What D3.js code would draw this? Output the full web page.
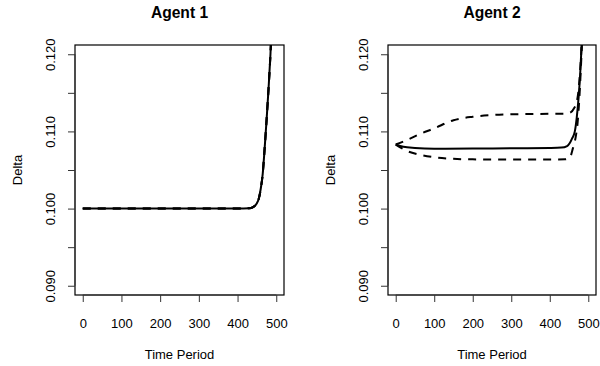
<!DOCTYPE html>
<html>
<head>
<meta charset="utf-8">
<script src="https://cdn.jsdelivr.net/npm/d3@7"></script>
<style>
  body { margin: 0; background: #fff; }
  text { font-family: "Liberation Sans", Arial, Helvetica, sans-serif; fill: #000; }
</style>
</head>
<body>
<svg id="chart" width="600" height="366"></svg>
<script>
// Agent 1: estimate and its band (the band sits on top of the estimate)
const agent1Time  = [0, 100, 200, 300, 400, 430, 440, 450, 455, 460, 465, 470, 475, 480, 485, 490];
const agent1Mean  = [0.1, 0.1, 0.1, 0.1, 0.1, 0.10005, 0.1002, 0.1007, 0.1013, 0.1026, 0.1045, 0.1078, 0.1115, 0.1155, 0.1200, 0.1260];
const agent1Lower = [0.1, 0.1, 0.1, 0.1, 0.1, 0.10005, 0.1002, 0.1007, 0.1013, 0.1026, 0.1045, 0.1078, 0.1115, 0.1155, 0.1200, 0.1260];
const agent1Upper = [0.1, 0.1, 0.1, 0.1, 0.1, 0.10005, 0.1002, 0.1007, 0.1013, 0.1026, 0.1045, 0.1078, 0.1115, 0.1155, 0.1200, 0.1260];

// Agent 2: estimate
const agent2MeanTime = [0, 20, 50, 100, 200, 300, 400, 430, 445, 452, 458, 465, 470, 475, 479, 483, 488];
const agent2Mean     = [0.1083, 0.1080, 0.10785, 0.10775, 0.10778, 0.10782, 0.10786, 0.1079, 0.1081, 0.1085, 0.1091, 0.1100, 0.1118, 0.1145, 0.1175, 0.1215, 0.1280];
// Agent 2: upper band
const agent2UpperTime = [0, 30, 60, 100, 150, 200, 250, 300, 400, 440, 455, 463, 470, 475, 479, 483, 488];
const agent2Upper     = [0.1083, 0.1089, 0.1096, 0.1104, 0.11145, 0.1119, 0.11212, 0.11222, 0.11228, 0.1123, 0.1125, 0.1130, 0.1138, 0.1155, 0.1180, 0.1215, 0.1280];
// Agent 2: lower band
const agent2LowerTime = [0, 30, 60, 100, 150, 200, 300, 400, 440, 452, 460, 467, 472, 477, 481, 485, 490];
const agent2Lower     = [0.1083, 0.10745, 0.1070, 0.10665, 0.10645, 0.10638, 0.10635, 0.10636, 0.10638, 0.1066, 0.1078, 0.1092, 0.1110, 0.1145, 0.1185, 0.1230, 0.1290];

// Axis ticks and labels
const xTicks = [0, 100, 200, 300, 400, 500];
const yTicks = [0.090, 0.095, 0.100, 0.105, 0.110, 0.115, 0.120];
const yTickLabels = ["0.090", "", "0.100", "", "0.110", "", "0.120"];
const titles = ["Agent 1", "Agent 2"];
const xTitle = "Time Period";
const yTitle = "Delta";

const svg = d3.select("#chart");

const panels = [
  { title: titles[0], left: 75, right: 284,
    series: [
      { t: agent1Time, v: agent1Mean, dash: null },
      { t: agent1Time, v: agent1Lower, dash: "8,7" },
      { t: agent1Time, v: agent1Upper, dash: "8,7" }
    ] },
  { title: titles[1], left: 388, right: 596,
    series: [
      { t: agent2MeanTime, v: agent2Mean, dash: null },
      { t: agent2UpperTime, v: agent2Upper, dash: "8,7" },
      { t: agent2LowerTime, v: agent2Lower, dash: "8,7" }
    ] }
];

const plotTop = 45, plotBottom = 295;

panels.forEach((p, i) => {
  const x = d3.scaleLinear().domain([-20, 520]).range([p.left, p.right]);
  const y = d3.scaleLinear().domain([0.0888, 0.1212]).range([plotBottom, plotTop]);
  const g = svg.append("g");

  const clipId = "clip" + i;
  svg.append("clipPath").attr("id", clipId)
    .append("rect").attr("x", p.left).attr("y", plotTop)
    .attr("width", p.right - p.left).attr("height", plotBottom - plotTop);

  // data lines
  const line = d3.line().curve(d3.curveMonotoneX);
  const lines = g.append("g").attr("clip-path", `url(#${clipId})`);
  p.series.forEach(s => {
    const pts = s.t.map((t, k) => [x(t), y(s.v[k])]);
    lines.append("path")
      .attr("d", line(pts))
      .attr("fill", "none")
      .attr("stroke", "#000")
      .attr("stroke-width", 2)
      .attr("stroke-dasharray", s.dash)
      .attr("stroke-linejoin", "round");
  });

  // box
  g.append("rect")
    .attr("x", p.left).attr("y", plotTop)
    .attr("width", p.right - p.left).attr("height", plotBottom - plotTop)
    .attr("fill", "none").attr("stroke", "#000").attr("stroke-width", 1.2);

  // x axis
  const xAxis = d3.axisBottom(x).tickValues(xTicks).tickSize(7).tickPadding(17)
    .tickFormat(d3.format("d"));
  const xa = g.append("g").attr("transform", `translate(0,${plotBottom})`).call(xAxis);
  xa.select(".domain").attr("d", `M${x(0)},0H${x(500)}`).attr("stroke", "#333");
  xa.selectAll(".tick line").attr("stroke", "#333");
  xa.selectAll("text").attr("font-size", 13).attr("fill", "#000")
    .style("font-family", '"Liberation Sans", Arial, sans-serif');

  // y axis
  const yAxis = d3.axisLeft(y).tickValues(yTicks).tickSize(7)
    .tickFormat((d, k) => yTickLabels[k]);
  const ya = g.append("g").attr("transform", `translate(${p.left},0)`).call(yAxis);
  ya.select(".domain").attr("d", `M0,${y(0.090)}V${y(0.120)}`).attr("stroke", "#333");
  ya.selectAll(".tick line").attr("stroke", "#333");
  ya.selectAll(".tick text")
    .attr("x", null).attr("dy", null)
    .attr("text-anchor", "middle")
    .attr("transform", "translate(-20,0) rotate(-90)")
    .attr("font-size", 13).attr("fill", "#000")
    .style("font-family", '"Liberation Sans", Arial, sans-serif');

  // titles
  const cx = (p.left + p.right) / 2;
  g.append("text").attr("x", cx).attr("y", 18).attr("text-anchor", "middle")
    .attr("font-size", 15.6).attr("font-weight", "bold").text(p.title);
  g.append("text").attr("x", cx).attr("y", 359).attr("text-anchor", "middle")
    .attr("font-size", 13).text(xTitle);
  g.append("text").attr("transform", `translate(${p.left - 53},${(plotTop + plotBottom) / 2}) rotate(-90)`)
    .attr("text-anchor", "middle").attr("font-size", 13).text(yTitle);
});
</script>
</body>
</html>
